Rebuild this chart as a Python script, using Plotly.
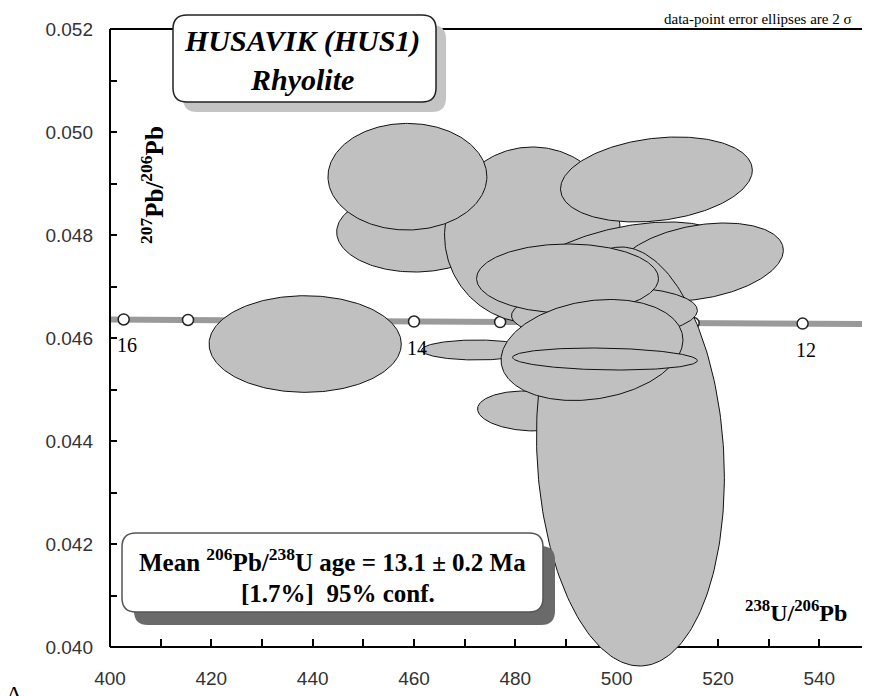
import numpy as np
import plotly.graph_objects as go

# ---------------- data ----------------
# 2-sigma error ellipses (drawing order = bottom to top)
ell_cx  = [438.52, 472.35, 482.80, 460.12, 483.39, 458.70, 501.54, 507.85, 516.33, 502.72, 497.59, 490.30, 495.13, 497.69]
ell_cy  = [0.045883, 0.045767, 0.044583, 0.048058, 0.048000, 0.049132, 0.047476, 0.049078, 0.047476, 0.043699, 0.046485, 0.047155, 0.045767, 0.045592]
ell_sx  = [18.97, 10.85, 10.26, 15.38, 17.36, 15.68, 19.72, 18.93, 16.57, 18.54, 18.34, 17.95, 17.95, 18.24]
ell_sy  = [0.000938, 0.000194, 0.000388, 0.000777, 0.001709, 0.001035, 0.000777, 0.000825, 0.000757, 0.004068, 0.000505, 0.000670, 0.000981, 0.000214]
ell_rho = [0.0, 0.0, -0.1, 0.0, 0.0, 0.0, 0.45, 0.22, 0.30, -0.1, 0.1, 0.0, 0.2, -0.15]

# concordia band
conc_x = [399.6, 402.7, 415.4, 429.3, 444.1, 460.0, 477.0, 495.4, 515.2, 536.7, 550.0]
conc_y = [0.04636, 0.04636, 0.04635, 0.04634, 0.04633, 0.04632, 0.04631, 0.04630, 0.04629, 0.04628, 0.04627]
# age marks (Ma)
age_ma = [16, 15.5, 15, 14.5, 14, 13.5, 13, 12.5, 12]
age_x  = [402.7, 415.4, 429.3, 444.1, 460.0, 477.0, 495.4, 515.2, 536.7]
age_y  = [0.04636, 0.04635, 0.04634, 0.04633, 0.04632, 0.04631, 0.04630, 0.04629, 0.04628]
age_labels = {16: "16", 14: "14", 12: "12"}

x_range = [400, 550]
y_axis_min, y_axis_max = 0.040, 0.052
y_view_min = 0.039398          # a little room below the axis for the long ellipse
x_tickvals = [400, 420, 440, 460, 480, 500, 520, 540]
y_tickvals = [0.040, 0.042, 0.044, 0.046, 0.048, 0.050, 0.052]

# ---------------- geometry helpers (layout only) ----------------
W, H = 870, 696
OFF = 8                       # page offset of the figure (body margin)
PL, PR, PT, PB = 110, 870, 29, 678   # plot area in page pixels
ML, MT = PL - OFF, PT - OFF
MR = W - (PR - OFF)
MB = H - (PB - OFF)
PW, PH = PR - PL, PB - PT

def P(px, py):
    return f"{(px - PL) / PW:.5f},{(PB - py) / PH:.5f}"

def rrect(x0, y0, x1, y1, r):
    return (f"M {P(x0 + r, y0)} L {P(x1 - r, y0)} Q {P(x1, y0)} {P(x1, y0 + r)} "
            f"L {P(x1, y1 - r)} Q {P(x1, y1)} {P(x1 - r, y1)} L {P(x0 + r, y1)} "
            f"Q {P(x0, y1)} {P(x0, y1 - r)} L {P(x0, y0 + r)} Q {P(x0, y0)} {P(x0 + r, y0)} Z")

def px2x(px):
    return (px - PL) / PW

def py2y(py):
    return (PB - py) / PH

fig = go.Figure()

# concordia
fig.add_trace(go.Scatter(x=conc_x, y=conc_y, mode="lines",
                         line=dict(color="#9a9a9a", width=6), hoverinfo="skip"))
fig.add_trace(go.Scatter(x=age_x, y=age_y, mode="markers",
                         marker=dict(size=11, color="white", line=dict(color="#222", width=1.5)),
                         hoverinfo="skip"))

# ellipses
t = np.linspace(0, 2 * np.pi, 241)
for cx, cy, sx, sy, r in zip(ell_cx, ell_cy, ell_sx, ell_sy, ell_rho):
    ex = cx + sx * np.cos(t)
    ey = cy + sy * (r * np.cos(t) + np.sqrt(1 - r * r) * np.sin(t))
    fig.add_trace(go.Scatter(x=ex, y=ey, mode="lines", fill="toself",
                             fillcolor="#c0c0c0", line=dict(color="#111", width=1),
                             hoverinfo="skip"))

axis_pos = (y_axis_min - y_view_min) / (y_axis_max - y_view_min)

fig.update_layout(
    width=W, height=H, margin=dict(l=ML, r=MR, t=MT, b=MB),
    plot_bgcolor="white", paper_bgcolor="white", showlegend=False,
    xaxis=dict(range=x_range, anchor="free", position=axis_pos,
               showline=True, linecolor="black", linewidth=2,
               ticks="inside", ticklen=7, tickwidth=1.5, tickcolor="black",
               tickvals=x_tickvals, ticktext=[str(v) for v in x_tickvals],
               minor=dict(dtick=10, tick0=400, ticks="inside", ticklen=7,
                          tickwidth=1.5, tickcolor="black"),
               showgrid=False, zeroline=False, layer="below traces",
               tickfont=dict(family="Liberation Sans, Arial", size=19, color="#333"),
               ticklabelstandoff=14),
    yaxis=dict(range=[y_view_min, y_axis_max], showline=False,
               ticks="inside", ticklen=7, tickwidth=1.5, tickcolor="black",
               tickvals=y_tickvals, ticktext=[f"{v:.3f}" for v in y_tickvals],
               minor=dict(dtick=0.001, tick0=0.040, ticks="inside", ticklen=7,
                          tickwidth=1.5, tickcolor="black"),
               showgrid=False, zeroline=False, layer="below traces",
               tickfont=dict(family="Liberation Sans, Arial", size=19, color="#333"),
               ticklabelstandoff=16),
)

shapes = []
# frame: top line and left axis line
shapes.append(dict(type="line", xref="paper", yref="paper", x0=0, x1=1, y0=1, y1=1,
                   line=dict(color="black", width=2), layer="above"))
shapes.append(dict(type="line", xref="paper", yref="paper", x0=0, x1=0,
                   y0=axis_pos, y1=1, line=dict(color="black", width=2), layer="above"))
# title box
shapes.append(dict(type="path", xref="paper", yref="paper", path=rrect(183, 25, 446, 112, 14),
                   fillcolor="#c4c4c4", line=dict(width=0), layer="above"))
shapes.append(dict(type="path", xref="paper", yref="paper", path=rrect(173, 15, 436, 102, 14),
                   fillcolor="white", line=dict(color="#222", width=1.5), layer="above"))
# mean age box
shapes.append(dict(type="path", xref="paper", yref="paper", path=rrect(134, 546, 555, 625, 14),
                   fillcolor="#6a6a6a", line=dict(width=0), layer="above"))
shapes.append(dict(type="path", xref="paper", yref="paper", path=rrect(122, 533, 543, 612, 14),
                   fillcolor="white", line=dict(color="#555", width=1.5), layer="above"))
fig.update_layout(shapes=shapes)

serif = "Liberation Serif, Times New Roman, serif"

def note(px, py, text, size, **kw):
    d = dict(x=px2x(px), y=py2y(py), xref="paper", yref="paper", showarrow=False,
             xanchor="center", yanchor="middle", text=text,
             font=dict(family=serif, size=size, color="black"))
    d.update(kw)
    return d

ann = []
ann.append(note(302, 41, "<b><i>HUSAVIK (HUS1)</i></b>", 30))
ann.append(note(302, 80, "<b><i>Rhyolite</i></b>", 30))
ann.append(note(854, 19, "data-point error ellipses are 2 σ", 15, xanchor="right"))
ann.append(note(332, 560, "<b>Mean <sup>206</sup>Pb/<sup>238</sup>U age = 13.1 ± 0.2 Ma</b>", 25))
ann.append(note(338, 593, "<b>[1.7%]\u00a0 95% conf.</b>", 25))
ann.append(note(152, 185, "<b><sup>207</sup>Pb/<sup>206</sup>Pb</b>", 25, textangle=-90))
ann.append(note(796, 611, "<b><sup>238</sup>U/<sup>206</sup>Pb</b>", 24))
ann.append(note(14, 693, "Δ", 22))
for a, xv, yv in zip(age_ma, age_x, age_y):
    if a in age_labels:
        ann.append(dict(x=xv, y=yv, xref="x", yref="y", showarrow=False,
                        xanchor="center", yanchor="middle",
                        text=age_labels[a], yshift=-26, xshift=3,
                        font=dict(family=serif, size=20, color="black")))
fig.update_layout(annotations=ann)

fig.write_html("out.html")
